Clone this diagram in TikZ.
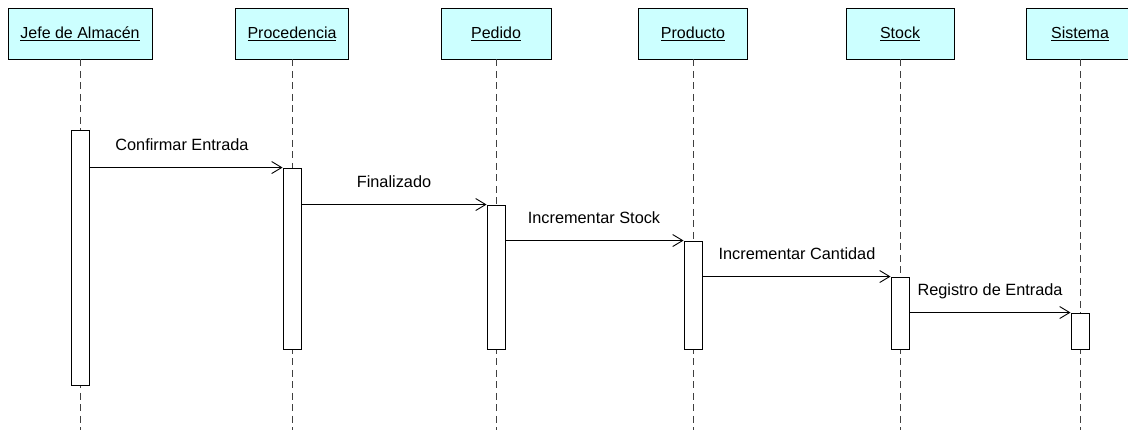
\documentclass[tikz,border=0pt]{standalone}
\usepackage{fontspec}
\setmainfont{Liberation Sans}
\usetikzlibrary{arrows.meta}
\definecolor{hdrfill}{HTML}{CCFFFF}
\begin{document}
\begin{tikzpicture}[x=1pt,y=-1pt,
  hdr/.style={draw=black,fill=hdrfill,line width=0.9pt,minimum height=51pt,inner sep=0pt,font=\fontsize{16}{19}\selectfont},
  act/.style={draw=black,fill=white,line width=0.9pt,minimum width=18pt,inner sep=0pt},
  life/.style={black!75,line width=0.9pt,dash pattern=on 7pt off 4.5pt},
  msg/.style={line width=0.9pt,-{Straight Barb[length=10pt,width=12pt,line width=0.9pt]}},
  lbl/.style={anchor=base,font=\fontsize{16.3}{19}\selectfont,inner sep=0pt}]
\useasboundingbox (0,0) rectangle (1128,430);
% headers
\node[hdr,minimum width=144pt] (h1) at (80,33.5) {\underline{Jefe de Almacén}};
\node[hdr,minimum width=113pt] (h2) at (292,33.5) {\underline{Procedencia}};
\node[hdr,minimum width=110pt] (h3) at (496,33.5) {\underline{Pedido}};
\node[hdr,minimum width=109pt] (h4) at (693,33.5) {\underline{Producto}};
\node[hdr,minimum width=108pt] (h5) at (900,33.5) {\underline{Stock}};
\node[hdr,minimum width=108pt] (h6) at (1080,33.5) {\underline{Sistema}};
% lifeline ends
\coordinate (e1) at (80,432);
\coordinate (e2) at (292,432);
\coordinate (e3) at (496,432);
\coordinate (e4) at (693,432);
\coordinate (e5) at (900,432);
\coordinate (e6) at (1080,432);
\draw[life] (h1.south) -- (e1);
\draw[life] (h2.south) -- (e2);
\draw[life] (h3.south) -- (e3);
\draw[life] (h4.south) -- (e4);
\draw[life] (h5.south) -- (e5);
\draw[life] (h6.south) -- (e6);
% activations
\node[act,minimum height=255pt] (a1) at (80,257.5) {};
\node[act,minimum height=181pt] (a2) at (292,258.5) {};
\node[act,minimum height=144pt] (a3) at (496,277) {};
\node[act,minimum height=108pt] (a4) at (693,295) {};
\node[act,minimum height=72pt] (a5) at (900,313) {};
\node[act,minimum height=36pt] (a6) at (1080,331) {};
% messages
\draw[msg] (a1.east |- a2.north) -- (a2.north west);
\draw[msg] (a2.east |- a3.north) -- (a3.north west);
\draw[msg] (a3.east |- a4.north) -- (a4.north west);
\draw[msg] (a4.east |- a5.north) -- (a5.north west);
\draw[msg] (a5.east |- a6.north) -- (a6.north west);
% labels
\node[lbl] (l1) at (182,151) {Confirmar Entrada};
\node[lbl] (l2) at (394,188) {Finalizado};
\node[lbl] (l3) at (594,224) {Incrementar Stock};
\node[lbl] (l4) at (797,260) {Incrementar Cantidad};
\node[lbl] (l5) at (990,296) {Registro de Entrada};
\end{tikzpicture}
\end{document}
